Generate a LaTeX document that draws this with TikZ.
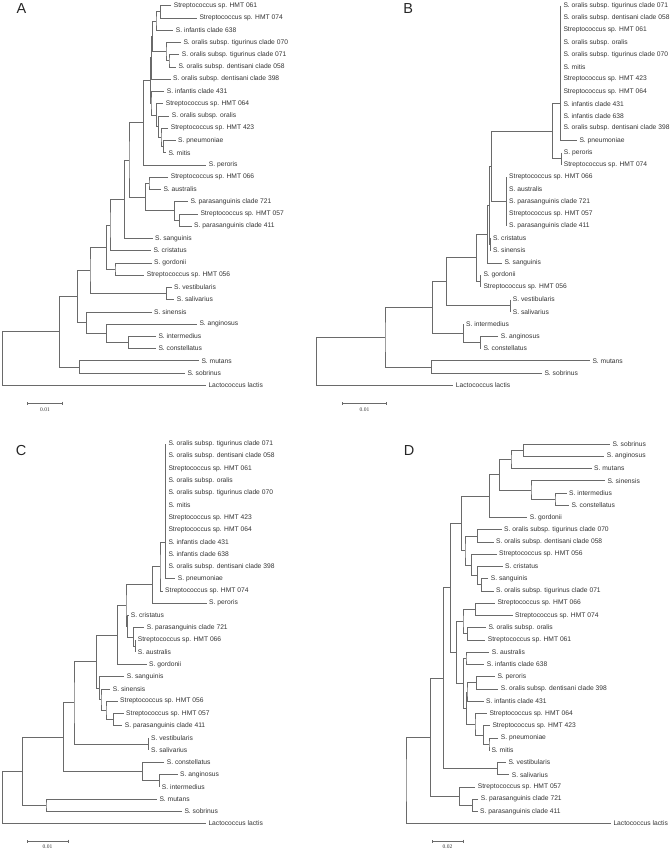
\documentclass[tikz,border=0pt]{standalone}
\usepackage{fontspec}
\setmainfont{Liberation Sans}
\newfontfamily\barfont{Liberation Serif}
\usetikzlibrary{calc, arrows.meta}
\definecolor{treeline}{HTML}{6A6A6A}
\definecolor{taxtext}{HTML}{333333}

\tikzset{
  branch/.style={draw=treeline, line width=0.65pt},
  taxon/.style={anchor=west, inner xsep=2.5pt, inner ysep=0pt, text=taxtext,
    font=\fontsize{6.7}{7}\selectfont},
  panel/.style={inner sep=0pt, text=black!85, font=\fontsize{14.5}{16}\selectfont},
  scalebar/.style={draw=treeline, line width=0.6pt, {Bar[width=3pt]}-{Bar[width=3pt]}},
  scaletext/.style={inner sep=0pt, text=taxtext, font=\barfont\fontsize{5.5}{6}\selectfont}
}

% leaf: name, tip x, row, label
\def\rowy{5.7}
\newcommand{\treeleaf}[4]{\node[taxon] (#1) at (#2,{\rowy+(#3-1)*12.245}) {#4};}
% clade: name, x, upper child, lower child
\newcommand{\treeclade}[4]{%
  \path let \p1=(#3), \p2=(#4) in (#2pt,{0.5*(\y1+\y2)}) coordinate (#1);
  \draw[branch] (#3) -| (#1) |- (#4);}

\begin{document}
\begin{tikzpicture}[x=1pt, y=-1pt]
\useasboundingbox (0,0) rectangle (670,851);

% =====================================================
% Panel A
% =====================================================
\node[panel] (labA) at (21.5,8.3) {A};
\def\rowy{5.7}
\treeleaf{a061}{171.2}{1}{Streptococcus sp. HMT 061}
\treeleaf{a074}{196.8}{2}{Streptococcus sp. HMT 074}
\treeleaf{a638}{173.2}{3}{S. infantis clade 638}
\treeleaf{a070}{180.8}{4}{S. oralis subsp. tigurinus clade 070}
\treeleaf{a071}{179.2}{5}{S. oralis subsp. tigurinus clade 071}
\treeleaf{a058}{175.8}{6}{S. oralis subsp. dentisani clade 058}
\treeleaf{a398}{170.5}{7}{S. oralis subsp. dentisani clade 398}
\treeleaf{a431}{164.2}{8}{S. infantis clade 431}
\treeleaf{a064}{163.2}{9}{Streptococcus sp. HMT 064}
\treeleaf{aora}{169.2}{10}{S. oralis subsp. oralis}
\treeleaf{a423}{168.2}{11}{Streptococcus sp. HMT 423}
\treeleaf{apne}{175.5}{12}{S. pneumoniae}
\treeleaf{amit}{165.8}{13}{S. mitis}
\treeleaf{aper}{206.2}{14}{S. peroris}
\treeleaf{a066}{168.2}{15}{Streptococcus sp. HMT 066}
\treeleaf{aaus}{160.8}{16}{S. australis}
\treeleaf{a721}{187.8}{17}{S. parasanguinis clade 721}
\treeleaf{a057}{197.8}{18}{Streptococcus sp. HMT 057}
\treeleaf{a411}{191.5}{19}{S. parasanguinis clade 411}
\treeleaf{asan}{152.5}{20}{S. sanguinis}
\treeleaf{acri}{150.8}{21}{S. cristatus}
\treeleaf{agor}{151.5}{22}{S. gordonii}
\treeleaf{a056}{144.2}{23}{Streptococcus sp. HMT 056}
\treeleaf{aves}{171.5}{24}{S. vestibularis}
\treeleaf{asal}{174.2}{25}{S. salivarius}
\treeleaf{asin}{151.5}{26}{S. sinensis}
\treeleaf{aang}{196.8}{27}{S. anginosus}
\treeleaf{aint}{155.8}{28}{S. intermedius}
\treeleaf{acon}{155.8}{29}{S. constellatus}
\treeleaf{amut}{198.8}{30}{S. mutans}
\treeleaf{asob}{184.8}{31}{S. sobrinus}
\treeleaf{alac}{205.8}{32}{Lactococcus lactis}

\treeclade{a1}{160.7}{a061.west}{a074.west}
\treeclade{a2}{156}{a1}{a638.west}
\treeclade{a3}{169}{a071.west}{a058.west}
\treeclade{a4}{166}{a070.west}{a3}
\treeclade{a5}{152.3}{a2}{a4}
\treeclade{a6}{151.7}{a5}{a398.west}
\treeclade{a8}{163.3}{apne.west}{amit.west}
\treeclade{a9}{161}{a423.west}{a8}
\treeclade{a10}{158.3}{aora.west}{a9}
\treeclade{a11}{156.3}{a064.west}{a10}
\treeclade{a7}{151}{a431.west}{a11}
\treeclade{a12}{150.3}{a6}{a7}
\treeclade{a13}{143.3}{a12}{aper.west}
\treeclade{a14}{149}{a066.west}{aaus.west}
\treeclade{a15}{179.3}{a057.west}{a411.west}
\treeclade{a16}{174.3}{a721.west}{a15}
\treeclade{a17}{145.5}{a14}{a16}
\treeclade{a18}{129}{a13}{a17}
\treeclade{a19}{124.3}{a18}{asan.west}
\treeclade{a20}{110}{a19}{acri.west}
\treeclade{a21}{115}{agor.west}{a056.west}
\treeclade{a22}{106.7}{a20}{a21}
\treeclade{a23}{166.7}{aves.west}{asal.west}
\treeclade{a24}{90}{a22}{a23}
\treeclade{a25}{128.3}{aint.west}{acon.west}
\treeclade{a26}{106.7}{aang.west}{a25}
\treeclade{a27}{86.7}{asin.west}{a26}
\treeclade{a28}{77.7}{a24}{a27}
\treeclade{a29}{79.3}{amut.west}{asob.west}
\treeclade{a30}{59.3}{a28}{a29}
\treeclade{a31}{2.3}{a30}{alac.west}

\coordinate (asb1) at (26.7,403);
\coordinate (asb2) at (62.7,403);
\draw[scalebar] (asb1) -- (asb2);
\node[scaletext] (asbt) at (45,409.5) {0.01};

% =====================================================
% Panel B
% =====================================================
\node[panel] (labB) at (408.3,8.3) {B};
\treeleaf{b071}{560.8}{1}{S. oralis subsp. tigurinus clade 071}
\treeleaf{b058}{560.8}{2}{S. oralis subsp. dentisani clade 058}
\treeleaf{b061}{560.8}{3}{Streptococcus sp. HMT 061}
\treeleaf{bora}{560.8}{4}{S. oralis subsp. oralis}
\treeleaf{b070}{560.8}{5}{S. oralis subsp. tigurinus clade 070}
\treeleaf{bmit}{560.8}{6}{S. mitis}
\treeleaf{b423}{560.8}{7}{Streptococcus sp. HMT 423}
\treeleaf{b064}{560.8}{8}{Streptococcus sp. HMT 064}
\treeleaf{b431}{560.8}{9}{S. infantis clade 431}
\treeleaf{b638}{560.8}{10}{S. infantis clade 638}
\treeleaf{b398}{560.8}{11}{S. oralis subsp. dentisani clade 398}
\treeleaf{bpne}{576.8}{12}{S. pneumoniae}
\treeleaf{bper}{561.2}{13}{S. peroris}
\treeleaf{b074}{561.2}{14}{Streptococcus sp. HMT 074}
\treeleaf{b066}{506.5}{15}{Streptococcus sp. HMT 066}
\treeleaf{baus}{506.5}{16}{S. australis}
\treeleaf{b721}{506.5}{17}{S. parasanguinis clade 721}
\treeleaf{b057}{506.5}{18}{Streptococcus sp. HMT 057}
\treeleaf{b411}{506.5}{19}{S. parasanguinis clade 411}
\treeleaf{bcri}{490.3}{20}{S. cristatus}
\treeleaf{bsin}{490.3}{21}{S. sinensis}
\treeleaf{bsan}{501.8}{22}{S. sanguinis}
\treeleaf{bgor}{480.8}{23}{S. gordonii}
\treeleaf{b056}{480.8}{24}{Streptococcus sp. HMT 056}
\treeleaf{bves}{510.2}{25}{S. vestibularis}
\treeleaf{bsal}{510.2}{26}{S. salivarius}
\treeleaf{bint}{463.5}{27}{S. intermedius}
\treeleaf{bang}{498.2}{28}{S. anginosus}
\treeleaf{bcon}{480.8}{29}{S. constellatus}
\treeleaf{bmut}{589.8}{30}{S. mutans}
\treeleaf{bsob}{541.8}{31}{S. sobrinus}
\treeleaf{blac}{453.2}{32}{Lactococcus lactis}

\treeclade{b1}{560.8}{b071.west}{b398.west}
\treeclade{b2}{560.3}{b1}{bpne.west}
\treeclade{b3}{561.2}{bper.west}{b074.west}
\treeclade{b4}{552.3}{b2}{b3}
\treeclade{b5}{506.5}{b066.west}{b411.west}
\treeclade{b6}{491.7}{b4}{b5}
\treeclade{b7}{490.3}{bcri.west}{bsin.west}
\treeclade{b8}{489.3}{b6}{b7}
\treeclade{b9}{487.3}{b8}{bsan.west}
\treeclade{b10}{480.8}{bgor.west}{b056.west}
\treeclade{b11}{476.3}{b9}{b10}
\treeclade{b12}{510.2}{bves.west}{bsal.west}
\treeclade{b13}{446.7}{b11}{b12}
\treeclade{b14}{480.8}{bang.west}{bcon.west}
\treeclade{b15}{463.3}{bint.west}{b14}
\treeclade{b16}{432.3}{b13}{b15}
\treeclade{b17}{431.3}{bmut.west}{bsob.west}
\treeclade{b18}{385}{b16}{b17}
\treeclade{b19}{316.7}{b18}{blac.west}

\coordinate (bsb1) at (342.3,403.7);
\coordinate (bsb2) at (386.7,403.7);
\draw[scalebar] (bsb1) -- (bsb2);
\node[scaletext] (bsbt) at (364.5,409.5) {0.01};

% =====================================================
% Panel C
% =====================================================
\node[panel] (labC) at (21,450.7) {C};
\def\rowy{444}
\treeleaf{c071}{165.8}{1}{S. oralis subsp. tigurinus clade 071}
\treeleaf{c058}{165.8}{2}{S. oralis subsp. dentisani clade 058}
\treeleaf{c061}{165.8}{3}{Streptococcus sp. HMT 061}
\treeleaf{cora}{165.8}{4}{S. oralis subsp. oralis}
\treeleaf{c070}{165.8}{5}{S. oralis subsp. tigurinus clade 070}
\treeleaf{cmit}{165.8}{6}{S. mitis}
\treeleaf{c423}{165.8}{7}{Streptococcus sp. HMT 423}
\treeleaf{c064}{165.8}{8}{Streptococcus sp. HMT 064}
\treeleaf{c431}{165.8}{9}{S. infantis clade 431}
\treeleaf{c638}{165.8}{10}{S. infantis clade 638}
\treeleaf{c398}{165.8}{11}{S. oralis subsp. dentisani clade 398}
\treeleaf{cpne}{175.2}{12}{S. pneumoniae}
\treeleaf{c074}{162.5}{13}{Streptococcus sp. HMT 074}
\treeleaf{cper}{206.5}{14}{S. peroris}
\treeleaf{ccri}{128.2}{15}{S. cristatus}
\treeleaf{c721}{144.2}{16}{S. parasanguinis clade 721}
\treeleaf{c066}{135.2}{17}{Streptococcus sp. HMT 066}
\treeleaf{caus}{135.2}{18}{S. australis}
\treeleaf{cgor}{146.5}{19}{S. gordonii}
\treeleaf{csan}{124.2}{20}{S. sanguinis}
\treeleaf{csin}{110.2}{21}{S. sinensis}
\treeleaf{c056}{117.5}{22}{Streptococcus sp. HMT 056}
\treeleaf{c057}{123.5}{23}{Streptococcus sp. HMT 057}
\treeleaf{c411}{122.2}{24}{S. parasanguinis clade 411}
\treeleaf{cves}{148.5}{25}{S. vestibularis}
\treeleaf{csal}{148.5}{26}{S. salivarius}
\treeleaf{ccon}{164.2}{27}{S. constellatus}
\treeleaf{cang}{177.5}{28}{S. anginosus}
\treeleaf{cint}{159.2}{29}{S. intermedius}
\treeleaf{cmut}{156.8}{30}{S. mutans}
\treeleaf{csob}{181.8}{31}{S. sobrinus}
\treeleaf{clac}{205.8}{32}{Lactococcus lactis}

\treeclade{c1}{165.8}{c071.west}{c398.west}
\treeclade{c2}{165.3}{c1}{cpne.west}
\treeclade{c3}{160}{c2}{c074.west}
\treeclade{c4}{152.7}{c3}{cper.west}
\treeclade{c5}{135.2}{c066.west}{caus.west}
\treeclade{c6}{133.5}{c721.west}{c5}
\treeclade{c7}{127.7}{ccri.west}{c6}
\treeclade{c8}{126}{c4}{c7}
\treeclade{c9}{117.3}{c8}{cgor.west}
\treeclade{c10}{113.3}{c057.west}{c411.west}
\treeclade{c11}{106}{c056.west}{c10}
\treeclade{c12}{101}{csin.west}{c11}
\treeclade{c13}{99.3}{csan.west}{c12}
\treeclade{c14}{96.7}{c9}{c13}
\treeclade{c15}{148.5}{cves.west}{csal.west}
\treeclade{c16}{74}{c14}{c15}
\treeclade{c17}{159.2}{cang.west}{cint.west}
\treeclade{c18}{142.7}{ccon.west}{c17}
\treeclade{c19}{63.3}{c16}{c18}
\treeclade{c20}{46}{cmut.west}{csob.west}
\treeclade{c21}{22.3}{c19}{c20}
\treeclade{c22}{2.3}{c21}{clac.west}

\coordinate (csb1) at (26.7,841);
\coordinate (csb2) at (68.3,841);
\draw[scalebar] (csb1) -- (csb2);
\node[scaletext] (csbt) at (47.5,847) {0.01};

% =====================================================
% Panel D
% =====================================================
\node[panel] (labD) at (409,450.7) {D};
\treeleaf{dsob}{609.8}{1}{S. sobrinus}
\treeleaf{dang}{604.2}{2}{S. anginosus}
\treeleaf{dmut}{591.5}{3}{S. mutans}
\treeleaf{dsin}{604.8}{4}{S. sinensis}
\treeleaf{dint}{566.5}{5}{S. intermedius}
\treeleaf{dcon}{568.8}{6}{S. constellatus}
\treeleaf{dgor}{527.2}{7}{S. gordonii}
\treeleaf{d070}{501.5}{8}{S. oralis subsp. tigurinus clade 070}
\treeleaf{d058}{493.5}{9}{S. oralis subsp. dentisani clade 058}
\treeleaf{d056}{496.5}{10}{Streptococcus sp. HMT 056}
\treeleaf{dcri}{502.5}{11}{S. cristatus}
\treeleaf{dsan}{488.2}{12}{S. sanguinis}
\treeleaf{d071}{493.5}{13}{S. oralis subsp. tigurinus clade 071}
\treeleaf{d066}{494.8}{14}{Streptococcus sp. HMT 066}
\treeleaf{d074}{512.5}{15}{Streptococcus sp. HMT 074}
\treeleaf{dora}{485.8}{16}{S. oralis subsp. oralis}
\treeleaf{d061}{485.2}{17}{Streptococcus sp. HMT 061}
\treeleaf{daus}{489.2}{18}{S. australis}
\treeleaf{d638}{484.2}{19}{S. infantis clade 638}
\treeleaf{dper}{494.8}{20}{S. peroris}
\treeleaf{d398}{498.2}{21}{S. oralis subsp. dentisani clade 398}
\treeleaf{d431}{483.5}{22}{S. infantis clade 431}
\treeleaf{d064}{486.8}{23}{Streptococcus sp. HMT 064}
\treeleaf{d423}{489.8}{24}{Streptococcus sp. HMT 423}
\treeleaf{dpne}{498.2}{25}{S. pneumoniae}
\treeleaf{dmit}{488.8}{26}{S. mitis}
\treeleaf{dves}{505.8}{27}{S. vestibularis}
\treeleaf{dsal}{509.2}{28}{S. salivarius}
\treeleaf{d057}{475.2}{29}{Streptococcus sp. HMT 057}
\treeleaf{d721}{478.2}{30}{S. parasanguinis clade 721}
\treeleaf{d411}{477.5}{31}{S. parasanguinis clade 411}
\treeleaf{dlac}{610.8}{32}{Lactococcus lactis}

\treeclade{d1}{523.7}{dsob.west}{dang.west}
\treeclade{d2}{511}{d1}{dmut.west}
\treeclade{d3}{555}{dint.west}{dcon.west}
\treeclade{d4}{531}{dsin.west}{d3}
\treeclade{d5}{499.7}{d2}{d4}
\treeclade{d6}{489.3}{d5}{dgor.west}
\treeclade{d7}{477.7}{d070.west}{d058.west}
\treeclade{d8}{481.7}{dsan.west}{d071.west}
\treeclade{d9}{477.3}{dcri.west}{d8}
\treeclade{d10}{471.7}{d056.west}{d9}
\treeclade{d11}{465}{d7}{d10}
\treeclade{d12}{461.7}{d6}{d11}
\treeclade{d13}{475.7}{d066.west}{d074.west}
\treeclade{d14}{467.7}{dora.west}{d061.west}
\treeclade{d15}{463}{d13}{d14}
\treeclade{d16}{466}{daus.west}{d638.west}
\treeclade{d17}{476.7}{dper.west}{d398.west}
\treeclade{d18}{467}{d17}{d431.west}
\treeclade{d19}{489}{dpne.west}{dmit.west}
\treeclade{d20}{483.3}{d423.west}{d19}
\treeclade{d21}{475}{d064.west}{d20}
\treeclade{d22}{466.3}{d18}{d21}
\treeclade{d23}{463.3}{d16}{d22}
\treeclade{d24}{456.7}{d15}{d23}
\treeclade{d25}{450.7}{d12}{d24}
\treeclade{d26}{497.3}{dves.west}{dsal.west}
\treeclade{d27}{443.3}{d25}{d26}
\treeclade{d28}{472.7}{d721.west}{d411.west}
\treeclade{d29}{459.3}{d057.west}{d28}
\treeclade{d30}{430.7}{d27}{d29}
\treeclade{d31}{406}{d30}{dlac.west}

\coordinate (dsb1) at (431.7,841);
\coordinate (dsb2) at (463.3,841);
\draw[scalebar] (dsb1) -- (dsb2);
\node[scaletext] (dsbt) at (447.5,847) {0.02};

\end{tikzpicture}
\end{document}
